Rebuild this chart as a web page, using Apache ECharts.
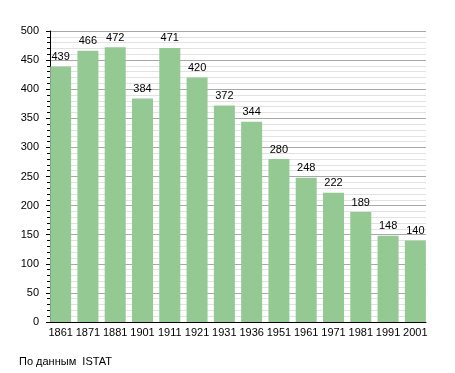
<!DOCTYPE html>
<html>
<head>
<meta charset="utf-8">
<script src="https://cdn.jsdelivr.net/npm/echarts@6/dist/echarts.min.js"></script>
<style>html,body{margin:0;padding:0;background:#fff}#c{width:455px;height:373px}</style>
</head>
<body>
<div id="c"></div>
<script>
const years = ['1861','1871','1881','1901','1911','1921','1931','1936','1951','1961','1971','1981','1991','2001'];
const population = [439,466,472,384,471,420,372,344,280,248,222,189,148,140];
const yTicks = {min:0, max:500, interval:50};
const sourceText = 'По данным  ISTAT';

const chart = echarts.init(document.getElementById('c'), null, {renderer:'canvas'});
const font = 'Liberation Sans, Arial, sans-serif';
chart.setOption({
  animation:false,
  backgroundColor:'#fff',
  grid:[
    {left:50, right:29, top:31, bottom:51},
    {left:47, right:26, top:31, bottom:51}
  ],
  xAxis:[
    {gridIndex:0, type:'value', min:0, max:1, axisLine:{show:true, lineStyle:{color:'#000', width:1}}, axisTick:{show:false}, axisLabel:{show:false}, splitLine:{show:false}},
    {gridIndex:1, type:'category', data:years, axisLine:{show:false}, axisTick:{show:false},
     axisLabel:{color:'#000', fontSize:11, fontFamily:font, margin:5, interval:0}}
  ],
  yAxis:[
    {gridIndex:0, type:'value', min:yTicks.min, max:yTicks.max, interval:yTicks.interval,
     axisLine:{show:true, lineStyle:{color:'#000', width:1}},
     axisTick:{show:true, length:4, lineStyle:{color:'#000'}},
     minorTick:{show:true, splitNumber:5, length:3, lineStyle:{color:'#000'}},
     axisLabel:{color:'#000', fontSize:11, fontFamily:font, margin:11},
     splitLine:{show:true, lineStyle:{color:'#a8a8a8', width:1}},
     minorSplitLine:{show:true, lineStyle:{color:'#e2e2e2', width:1}}},
    {gridIndex:1, type:'value', min:yTicks.min, max:yTicks.max, show:false, splitLine:{show:false}}
  ],
  series:[{
    type:'bar', xAxisIndex:1, yAxisIndex:1, data:population, barWidth:21,
    itemStyle:{color:'#94c994'},
    label:{show:true, position:'top', distance:4, color:'#000', fontSize:11, fontFamily:font}
  }],
  graphic:[{type:'text', left:19, top:356, style:{text:sourceText, fill:'#000', font:'11px Liberation Sans, Arial, sans-serif'}}]
});
</script>
</body>
</html>
